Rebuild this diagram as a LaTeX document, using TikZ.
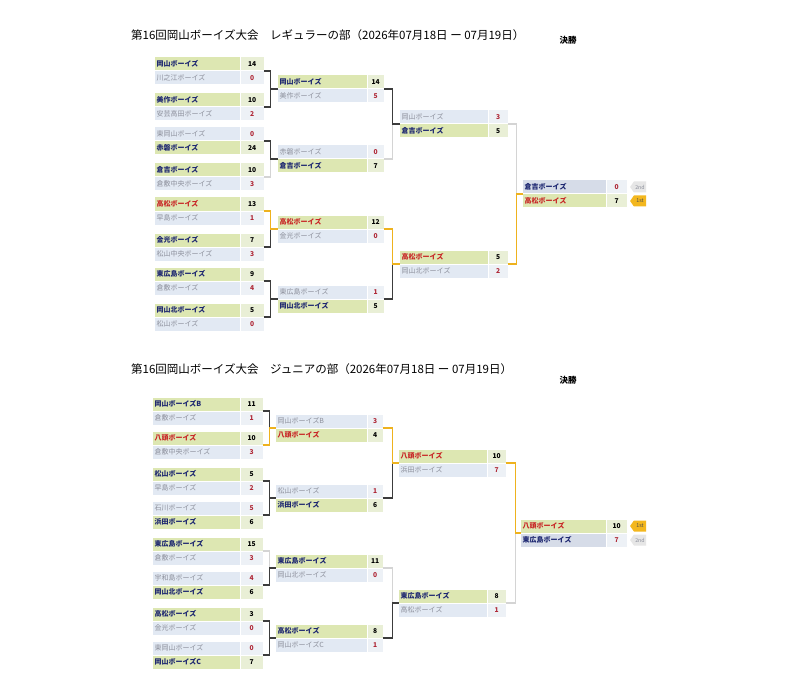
\documentclass[tikz,border=0pt]{standalone}
\usepackage{fontspec}
\setmainfont{Noto Sans CJK JP}
\usetikzlibrary{shapes.symbols,calc}

\definecolor{winfill}{RGB}{221,231,178}
\definecolor{winsc}{RGB}{233,239,214}
\definecolor{losefill}{RGB}{226,233,243}
\definecolor{losesc}{RGB}{237,241,246}
\definecolor{finfill}{RGB}{214,220,232}
\definecolor{navy}{RGB}{28,38,112}
\definecolor{tred}{RGB}{200,38,38}
\definecolor{tgray}{RGB}{140,143,155}
\definecolor{sred}{RGB}{175,40,55}
\definecolor{brdark}{RGB}{60,60,60}
\definecolor{brlight}{RGB}{212,212,212}
\definecolor{gold}{RGB}{238,178,30}
\definecolor{tagfill}{RGB}{243,183,30}
\definecolor{taggray}{RGB}{230,230,230}

\newcommand\nmfont{\fontsize{7pt}{7.5pt}\selectfont}
\newcommand\scfont{\fontsize{6.7pt}{7pt}\selectfont}

\tikzset{
  cellbox/.style={inner sep=0pt, minimum height=13pt, anchor=west},
  kW/.style={nf/.style={fill=winfill}, sf/.style={fill=winsc},
    nt/.style={text=navy, font=\nmfont\bfseries}, st/.style={text=black, font=\scfont\bfseries}},
  kR/.style={nf/.style={fill=winfill}, sf/.style={fill=winsc},
    nt/.style={text=tred, font=\nmfont\bfseries}, st/.style={text=black, font=\scfont\bfseries}},
  kL/.style={nf/.style={fill=losefill}, sf/.style={fill=losesc},
    nt/.style={text=tgray, font=\nmfont}, st/.style={text=sred, font=\scfont\bfseries}},
  kF/.style={nf/.style={fill=finfill}, sf/.style={fill=losesc},
    nt/.style={text=navy, font=\nmfont\bfseries}, st/.style={text=sred, font=\scfont\bfseries}},
  brd/.style={draw=brdark, line width=1.2pt},
  brl/.style={draw=brlight, line width=1.2pt},
  bry/.style={draw=gold, line width=1.2pt},
  title/.style={anchor=west, inner sep=0pt, font=\fontsize{11.5pt}{12pt}\selectfont},
  final/.style={inner sep=0pt, font=\fontsize{8.5pt}{9pt}\selectfont\bfseries},
  tagbox/.style={signal, signal to=west, signal pointer angle=110, inner sep=0pt,
    minimum width=16pt, minimum height=11pt, font=\fontsize{5.3pt}{6pt}\selectfont},
}

% #1 id, #2 y, #3 kind, #4 team, #5 score
\newcommand\team[5]{%
  \tikzset{k#3}%
  \node[cellbox, nf, minimum width=\cw pt] (#1) at (\cx,#2) {};
  \node[cellbox, sf, minimum width=\csw pt] (#1s) at (#1.east) {};
  \node[nt, anchor=west, inner sep=0pt] (#1t) at ([xshift=1.5pt]#1.west) {#4};
  \node[st, inner sep=0pt] (#1n) at (#1s.center) {#5};
}
% #1 match id, #2 top row id, #3 bottom row id
\newcommand\mcoord[3]{%
  \coordinate (#1o) at ($(#2s.east)!0.5!(#3s.east)$);
  \coordinate (#1i) at ($(#2.west)!0.5!(#3.west)$);
}

\begin{document}
\begin{tikzpicture}[x=1pt, y=-1pt]
\useasboundingbox (0,0) rectangle (800,687);
\fill[white] (0,0) rectangle (800,687);

% ================= Regular =================
\node[title] (rtitle) at (131,35) {第16回岡山ボーイズ大会　レギュラーの部（2026年07月18日 ー 07月19日）};
\node[final] (rfinal) at (568,40) {決勝};

\def\cx{155}\def\cw{85}\def\csw{23}
\team{ra1}{64}{W}{岡山ボーイズ}{14}
\team{rb1}{78}{L}{川之江ボーイズ}{0}
\team{ra2}{100}{W}{美作ボーイズ}{10}
\team{rb2}{114}{L}{安芸高田ボーイズ}{2}
\team{ra3}{134}{L}{東岡山ボーイズ}{0}
\team{rb3}{148}{W}{赤磐ボーイズ}{24}
\team{ra4}{170}{W}{倉吉ボーイズ}{10}
\team{rb4}{184}{L}{倉敷中央ボーイズ}{3}
\team{ra5}{204}{R}{高松ボーイズ}{13}
\team{rb5}{218}{L}{早島ボーイズ}{1}
\team{ra6}{240}{W}{金光ボーイズ}{7}
\team{rb6}{254}{L}{松山中央ボーイズ}{3}
\team{ra7}{274}{W}{東広島ボーイズ}{9}
\team{rb7}{288}{L}{倉敷ボーイズ}{4}
\team{ra8}{310}{W}{岡山北ボーイズ}{5}
\team{rb8}{324}{L}{松山ボーイズ}{0}

\def\cx{278}\def\cw{89}\def\csw{16}
\team{ra9}{82}{W}{岡山ボーイズ}{14}
\team{rb9}{96}{L}{美作ボーイズ}{5}
\team{ra10}{152}{L}{赤磐ボーイズ}{0}
\team{rb10}{166}{W}{倉吉ボーイズ}{7}
\team{ra11}{222}{R}{高松ボーイズ}{12}
\team{rb11}{236}{L}{金光ボーイズ}{0}
\team{ra12}{292}{L}{東広島ボーイズ}{1}
\team{rb12}{306}{W}{岡山北ボーイズ}{5}

\def\cx{400}\def\cw{88}\def\csw{19}
\team{ra13}{117}{L}{岡山ボーイズ}{3}
\team{rb13}{131}{W}{倉吉ボーイズ}{5}
\team{ra14}{257}{R}{高松ボーイズ}{5}
\team{rb14}{271}{L}{岡山北ボーイズ}{2}

\def\cx{523}\def\cw{83}\def\csw{20}
\team{ra15}{187}{F}{倉吉ボーイズ}{0}
\team{rb15}{201}{R}{高松ボーイズ}{7}

\foreach \i in {1,...,15} {\mcoord{rm\i}{ra\i}{rb\i}}

% light (finalist loser path)
\draw[brl] (rm4o) -- ++(7,0) |- (rm10i);
\draw[brl] (rm10o) -- ++(9,0) |- (rm13i);
\draw[brl] (rm13o) -- ++(9,0) |- (rm15i);
% dark
\draw[brd] (rm1o) -- ++(7,0) |- (rm9i);
\draw[brd] (rm2o) -- ++(7,0) |- (rm9i);
\draw[brd] (rm3o) -- ++(7,0) |- (rm10i);
\draw[brd] (rm6o) -- ++(7,0) |- (rm11i);
\draw[brd] (rm7o) -- ++(7,0) |- (rm12i);
\draw[brd] (rm8o) -- ++(7,0) |- (rm12i);
\draw[brd] (rm9o) -- ++(9,0) |- (rm13i);
\draw[brd] (rm12o) -- ++(9,0) |- (rm14i);
% champion path
\draw[bry] (rm5o) -- ++(7,0) |- (rm11i);
\draw[bry] (rm11o) -- ++(9,0) |- (rm14i);
\draw[bry] (rm14o) -- ++(9,0) |- (rm15i);

\node[tagbox, fill=taggray, text=tgray] (rtag2) at (640,187) {2nd};
\node[tagbox, fill=tagfill, text=black!70] (rtag1) at (640,201) {1st};

% ================= Junior =================
\node[title] (jtitle) at (131,369) {第16回岡山ボーイズ大会　ジュニアの部（2026年07月18日 ー 07月19日）};
\node[final] (jfinal) at (568,380) {決勝};

\def\cx{153}\def\cw{87}\def\csw{22}
\team{ja1}{404}{W}{岡山ボーイズB}{11}
\team{jb1}{418}{L}{倉敷ボーイズ}{1}
\team{ja2}{438}{R}{八頭ボーイズ}{10}
\team{jb2}{452}{L}{倉敷中央ボーイズ}{3}
\team{ja3}{474}{W}{松山ボーイズ}{5}
\team{jb3}{488}{L}{早島ボーイズ}{2}
\team{ja4}{508}{L}{石川ボーイズ}{5}
\team{jb4}{522}{W}{浜田ボーイズ}{6}
\team{ja5}{544}{W}{東広島ボーイズ}{15}
\team{jb5}{558}{L}{倉敷ボーイズ}{3}
\team{ja6}{578}{L}{宇和島ボーイズ}{4}
\team{jb6}{592}{W}{岡山北ボーイズ}{6}
\team{ja7}{614}{W}{高松ボーイズ}{3}
\team{jb7}{628}{L}{金光ボーイズ}{0}
\team{ja8}{648}{L}{東岡山ボーイズ}{0}
\team{jb8}{662}{W}{岡山ボーイズC}{7}

\def\cx{276}\def\cw{91}\def\csw{15}
\team{ja9}{421}{L}{岡山ボーイズB}{3}
\team{jb9}{435}{R}{八頭ボーイズ}{4}
\team{ja10}{491}{L}{松山ボーイズ}{1}
\team{jb10}{505}{W}{浜田ボーイズ}{6}
\team{ja11}{561}{W}{東広島ボーイズ}{11}
\team{jb11}{575}{L}{岡山北ボーイズ}{0}
\team{ja12}{631}{W}{高松ボーイズ}{8}
\team{jb12}{645}{L}{岡山ボーイズC}{1}

\def\cx{399}\def\cw{88}\def\csw{18}
\team{ja13}{456}{R}{八頭ボーイズ}{10}
\team{jb13}{470}{L}{浜田ボーイズ}{7}
\team{ja14}{596}{W}{東広島ボーイズ}{8}
\team{jb14}{610}{L}{高松ボーイズ}{1}

\def\cx{521}\def\cw{85}\def\csw{20}
\team{ja15}{526}{R}{八頭ボーイズ}{10}
\team{jb15}{540}{F}{東広島ボーイズ}{7}

\foreach \i in {1,...,15} {\mcoord{jm\i}{ja\i}{jb\i}}

\draw[brl] (jm5o) -- ++(7,0) |- (jm11i);
\draw[brl] (jm11o) -- ++(10,0) |- (jm14i);
\draw[brl] (jm14o) -- ++(10,0) |- (jm15i);
\draw[brd] (jm1o) -- ++(7,0) |- (jm9i);
\draw[brd] (jm3o) -- ++(7,0) |- (jm10i);
\draw[brd] (jm4o) -- ++(7,0) |- (jm10i);
\draw[brd] (jm6o) -- ++(7,0) |- (jm11i);
\draw[brd] (jm7o) -- ++(7,0) |- (jm12i);
\draw[brd] (jm8o) -- ++(7,0) |- (jm12i);
\draw[brd] (jm10o) -- ++(10,0) |- (jm13i);
\draw[brd] (jm12o) -- ++(10,0) |- (jm14i);
\draw[bry] (jm2o) -- ++(7,0) |- (jm9i);
\draw[bry] (jm9o) -- ++(10,0) |- (jm13i);
\draw[bry] (jm13o) -- ++(10,0) |- (jm15i);

\node[tagbox, fill=tagfill, text=black!70] (jtag1) at (640,526) {1st};
\node[tagbox, fill=taggray, text=tgray] (jtag2) at (640,540) {2nd};
\end{tikzpicture}
\end{document}
